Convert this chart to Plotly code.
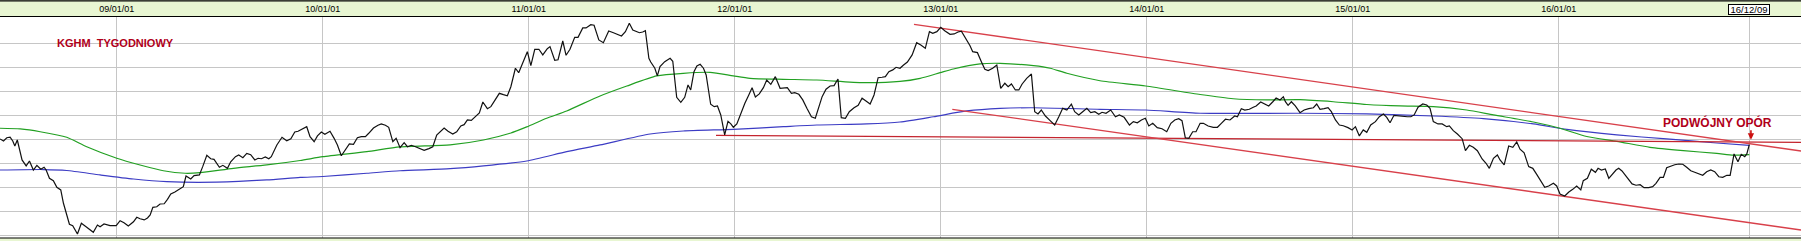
import plotly.graph_objects as go

# ---------------- data (decimal years, price in PLN) ----------------
week_t = [
    2008.433, 2008.450, 2008.466, 2008.482, 2008.495, 2008.505, 2008.517, 2008.540, 2008.560, 2008.576,
    2008.595, 2008.612, 2008.631, 2008.647, 2008.657, 2008.673, 2008.692, 2008.709, 2008.728, 2008.741,
    2008.770, 2008.786, 2008.809, 2008.828, 2008.854, 2008.874, 2008.886, 2008.906, 2008.919, 2008.938,
    2008.967, 2008.997, 2009.016, 2009.035, 2009.056, 2009.081, 2009.097, 2009.113, 2009.133, 2009.149,
    2009.162, 2009.175, 2009.194, 2009.210, 2009.230, 2009.246, 2009.262, 2009.282, 2009.304, 2009.323,
    2009.336, 2009.359, 2009.375, 2009.401, 2009.417, 2009.437, 2009.456, 2009.472, 2009.498, 2009.515,
    2009.537, 2009.553, 2009.576, 2009.592, 2009.612, 2009.631, 2009.650, 2009.670, 2009.686, 2009.702,
    2009.721, 2009.738, 2009.750, 2009.777, 2009.802, 2009.825, 2009.845, 2009.864, 2009.880, 2009.922,
    2009.938, 2009.958, 2009.974, 2009.993, 2010.010, 2010.035, 2010.055, 2010.071, 2010.090, 2010.110,
    2010.129, 2010.149, 2010.168, 2010.187, 2010.207, 2010.223, 2010.246, 2010.268, 2010.284, 2010.304,
    2010.320, 2010.340, 2010.356, 2010.375, 2010.395, 2010.411, 2010.430, 2010.450, 2010.469, 2010.492,
    2010.515, 2010.534, 2010.553, 2010.573, 2010.589, 2010.608, 2010.631, 2010.650, 2010.670, 2010.686,
    2010.702, 2010.721, 2010.748, 2010.760, 2010.777, 2010.799, 2010.816, 2010.835, 2010.857, 2010.877,
    2010.896, 2010.913, 2010.935, 2010.951, 2010.974, 2010.993, 2011.010, 2011.029, 2011.049, 2011.068,
    2011.090, 2011.103, 2011.126, 2011.142, 2011.165, 2011.181, 2011.200, 2011.223, 2011.239, 2011.262,
    2011.278, 2011.301, 2011.317, 2011.340, 2011.362, 2011.388, 2011.411, 2011.430, 2011.450, 2011.469,
    2011.488, 2011.505, 2011.521, 2011.537, 2011.553, 2011.566, 2011.583, 2011.592, 2011.612, 2011.624,
    2011.637, 2011.660, 2011.686, 2011.699, 2011.718, 2011.738, 2011.757, 2011.773, 2011.786, 2011.802,
    2011.816, 2011.832, 2011.848, 2011.861, 2011.883, 2011.900, 2011.916, 2011.932, 2011.951, 2011.967,
    2011.981, 2011.993, 2012.010, 2012.029, 2012.049, 2012.068, 2012.084, 2012.100, 2012.119, 2012.139,
    2012.155, 2012.175, 2012.197, 2012.220, 2012.239, 2012.255, 2012.275, 2012.291, 2012.311, 2012.330,
    2012.350, 2012.372, 2012.391, 2012.408, 2012.424, 2012.443, 2012.463, 2012.482, 2012.501, 2012.517,
    2012.537, 2012.556, 2012.579, 2012.599, 2012.618, 2012.637, 2012.657, 2012.676, 2012.696, 2012.715,
    2012.731, 2012.748, 2012.767, 2012.783, 2012.802, 2012.818, 2012.838, 2012.861, 2012.883, 2012.903,
    2012.925, 2012.945, 2012.961, 2012.981, 2013.000, 2013.019, 2013.045, 2013.065, 2013.084, 2013.100,
    2013.123, 2013.142, 2013.155, 2013.178, 2013.197, 2013.214, 2013.230, 2013.252, 2013.272, 2013.291,
    2013.311, 2013.327, 2013.343, 2013.362, 2013.379, 2013.395, 2013.417, 2013.440, 2013.456, 2013.472,
    2013.488, 2013.508, 2013.531, 2013.553, 2013.573, 2013.592, 2013.612, 2013.634, 2013.650, 2013.670,
    2013.689, 2013.709, 2013.728, 2013.748, 2013.767, 2013.783, 2013.802, 2013.825, 2013.848, 2013.867,
    2013.890, 2013.916, 2013.935, 2013.954, 2013.974, 2013.993, 2014.010, 2014.029, 2014.051, 2014.074,
    2014.097, 2014.117, 2014.136, 2014.155, 2014.171, 2014.187, 2014.204, 2014.223, 2014.239, 2014.259,
    2014.275, 2014.298, 2014.323, 2014.343, 2014.362, 2014.382, 2014.404, 2014.427, 2014.440, 2014.459,
    2014.476, 2014.498, 2014.517, 2014.531, 2014.553, 2014.576, 2014.592, 2014.612, 2014.628, 2014.647,
    2014.663, 2014.673, 2014.686, 2014.702, 2014.721, 2014.744, 2014.764, 2014.786, 2014.809, 2014.825,
    2014.841, 2014.861, 2014.880, 2014.896, 2014.916, 2014.935, 2014.954, 2014.977, 2014.997, 2015.013,
    2015.032, 2015.051, 2015.068, 2015.087, 2015.110, 2015.129, 2015.149, 2015.165, 2015.181, 2015.200,
    2015.223, 2015.243, 2015.265, 2015.282, 2015.298, 2015.317, 2015.340, 2015.359, 2015.375, 2015.391,
    2015.414, 2015.434, 2015.456, 2015.469, 2015.488, 2015.508, 2015.531, 2015.547, 2015.566, 2015.585,
    2015.605, 2015.628, 2015.647, 2015.663, 2015.683, 2015.702, 2015.715, 2015.735, 2015.757, 2015.777,
    2015.796, 2015.812, 2015.832, 2015.854, 2015.874, 2015.893, 2015.916, 2015.932, 2015.951, 2015.974,
    2015.990, 2016.006, 2016.029, 2016.049, 2016.068, 2016.087, 2016.107, 2016.119, 2016.139, 2016.158,
    2016.178, 2016.191, 2016.207, 2016.226, 2016.243, 2016.262, 2016.278, 2016.291, 2016.307, 2016.320,
    2016.336, 2016.356, 2016.375, 2016.395, 2016.414, 2016.437, 2016.456, 2016.472, 2016.492, 2016.508,
    2016.524, 2016.544, 2016.563, 2016.583, 2016.602, 2016.621, 2016.641, 2016.660, 2016.680, 2016.699,
    2016.718, 2016.738, 2016.757, 2016.777, 2016.796, 2016.816, 2016.832, 2016.851, 2016.870, 2016.886,
    2016.903, 2016.913, 2016.925,
]
close = [
    100.3, 98.6, 101.3, 101.7, 98.6, 94.4, 99.4, 82.8, 77.8, 81.9,
    74.4, 78.3, 75.0, 76.7, 74.4, 67.5, 65.5, 60.0, 57.8, 46.7,
    29.2, 28.0, 21.1, 30.0, 26.7, 24.4, 22.5, 28.6, 27.2, 29.4,
    28.0, 28.0, 32.2, 30.5, 27.8, 31.3, 35.0, 33.8, 32.8, 34.4,
    36.9, 43.3, 43.8, 46.1, 46.3, 50.0, 54.4, 56.1, 58.3, 60.5,
    69.4, 66.9, 69.7, 70.3, 77.2, 86.7, 83.8, 83.3, 76.7, 78.3,
    75.8, 81.3, 85.5, 86.9, 84.7, 88.3, 87.2, 82.8, 84.2, 83.8,
    85.3, 83.8, 85.5, 95.3, 101.7, 98.8, 100.5, 106.1, 106.7, 110.5,
    102.2, 98.0, 102.8, 106.1, 104.2, 106.7, 100.8, 95.3, 86.3, 91.1,
    96.1, 95.8, 101.3, 102.2, 102.2, 105.0, 109.4, 111.7, 112.8, 111.7,
    110.0, 98.0, 100.8, 93.0, 97.2, 93.8, 95.0, 93.8, 92.5, 90.8,
    92.2, 93.8, 103.6, 106.9, 109.4, 106.7, 104.4, 106.3, 111.1, 112.2,
    116.1, 115.8, 120.3, 121.9, 131.1, 125.5, 127.2, 132.8, 138.3, 137.2,
    136.3, 143.8, 159.2, 155.5, 164.7, 173.0, 161.3, 175.0, 175.0, 170.3,
    175.5, 177.2, 165.8, 166.3, 181.9, 170.0, 175.0, 185.0, 185.0, 192.8,
    192.8, 195.5, 195.0, 182.8, 180.5, 190.3, 188.8, 187.2, 186.1, 189.7,
    196.7, 191.1, 190.0, 188.8, 189.4, 190.5, 167.5, 164.4, 159.2, 152.8,
    160.5, 164.7, 167.5, 165.0, 135.0, 130.8, 135.0, 145.3, 141.1, 156.3,
    161.1, 162.5, 159.2, 153.6, 129.2, 127.2, 127.8, 120.3, 103.6, 115.0,
    112.8, 110.0, 112.8, 121.7, 130.0, 136.9, 143.0, 135.3, 137.8, 143.0,
    149.4, 145.8, 152.2, 142.5, 142.5, 143.0, 138.3, 138.8, 137.5, 132.8,
    125.8, 118.8, 117.5, 127.2, 135.5, 141.7, 144.4, 144.7, 150.3, 118.0,
    117.5, 123.0, 126.3, 128.3, 134.2, 131.9, 129.4, 136.9, 151.3, 151.7,
    152.2, 156.3, 157.8, 160.0, 159.2, 161.7, 164.4, 170.3, 180.5, 178.6,
    175.8, 189.7, 188.3, 189.7, 193.3, 190.5, 187.5, 187.8, 189.4, 190.0,
    183.6, 178.0, 173.0, 172.2, 164.7, 158.3, 157.2, 159.2, 161.9, 142.5,
    146.7, 143.8, 146.1, 141.1, 141.1, 146.1, 150.8, 154.4, 123.0, 121.1,
    124.4, 119.4, 115.5, 111.9, 118.8, 125.8, 124.4, 129.2, 123.0, 120.3,
    123.0, 125.8, 122.2, 123.0, 120.8, 122.5, 121.7, 124.4, 118.8, 120.3,
    118.3, 111.9, 114.7, 113.8, 116.1, 117.5, 111.1, 113.3, 109.7, 108.8,
    106.3, 113.3, 116.1, 117.2, 115.5, 101.3, 100.8, 106.3, 106.3, 113.3,
    113.3, 111.1, 110.0, 110.0, 113.3, 116.7, 116.1, 119.4, 118.8, 125.5,
    124.4, 125.0, 126.7, 127.8, 131.1, 128.8, 127.8, 131.3, 134.4, 132.8,
    135.5, 131.3, 128.3, 131.3, 127.8, 122.2, 124.4, 125.5, 126.3, 129.4,
    125.0, 125.5, 126.3, 123.0, 116.1, 111.9, 111.3, 109.7, 107.8, 110.5,
    102.8, 107.8, 105.8, 111.9, 114.7, 118.8, 121.1, 118.3, 113.8, 120.0,
    119.4, 119.4, 118.8, 118.8, 120.3, 126.7, 129.4, 128.6, 125.8, 114.7,
    112.8, 112.8, 110.5, 111.1, 107.2, 104.4, 100.5, 90.5, 95.0, 93.3,
    90.5, 83.6, 80.0, 75.8, 84.2, 86.9, 82.8, 78.6, 94.4, 93.3,
    97.8, 91.7, 88.8, 77.2, 75.8, 70.8, 64.7, 60.0, 61.1, 63.3,
    61.1, 54.4, 52.8, 56.1, 58.3, 61.1, 57.8, 65.5, 67.5, 75.0,
    72.5, 75.8, 74.4, 75.3, 67.5, 71.1, 74.4, 75.8, 73.6, 70.8,
    67.2, 62.8, 61.7, 62.2, 59.7, 59.7, 60.5, 63.3, 68.3, 68.3,
    76.3, 77.8, 78.8, 79.4, 79.2, 76.7, 73.8, 72.5, 71.1, 70.0,
    73.0, 74.4, 73.0, 68.8, 68.3, 70.0, 70.0, 87.8, 81.3, 87.5,
    85.5, 87.8, 95.5,
]

# moving averages (green = shorter, blue = longer)
green_t = [2008.433, 2008.531, 2008.628, 2008.757, 2008.854, 2009.000, 2009.113, 2009.226, 2009.332, 2009.404,
           2009.566, 2009.728, 2009.890, 2010.000, 2010.214, 2010.375, 2010.618, 2010.780, 2010.909, 2010.990,
           2011.087, 2011.184, 2011.346, 2011.476, 2011.621, 2011.750, 2011.880, 2011.993, 2012.074, 2012.236,
           2012.398, 2012.624, 2012.802, 2012.900, 2012.997, 2013.061, 2013.191, 2013.288, 2013.450, 2013.531,
           2013.612, 2013.773, 2013.995, 2014.259, 2014.420, 2014.583, 2014.744, 2014.906, 2015.068, 2015.230,
           2015.391, 2015.553, 2015.683, 2015.877, 2016.006, 2016.136, 2016.282, 2016.443, 2016.605, 2016.767,
           2016.848, 2016.925]
green_v = [109.2, 108.6, 106.3, 101.7, 93.8, 84.2, 78.6, 73.8, 71.7, 72.2,
           75.8, 78.6, 82.3, 85.5, 89.7, 93.6, 95.3, 99.4, 105.0, 110.3,
           117.5, 123.6, 136.1, 144.4, 152.8, 155.0, 155.8, 152.8, 150.8, 150.0,
           149.4, 147.2, 148.2, 150.8, 155.5, 158.6, 162.8, 163.3, 161.3, 159.2,
           155.0, 148.8, 144.4, 137.3, 133.8, 132.8, 133.0, 131.3, 129.0, 127.8,
           127.3, 124.4, 120.3, 114.4, 109.2, 102.3, 98.3, 93.3, 90.5, 88.3,
           86.8, 87.3]

blue_t = [2008.433, 2008.644, 2008.757, 2008.919, 2009.081, 2009.243, 2009.485, 2009.728, 2009.890, 2010.000,
          2010.214, 2010.375, 2010.618, 2010.780, 2010.990, 2011.184, 2011.346, 2011.589, 2011.750, 2011.993,
          2012.236, 2012.398, 2012.641, 2012.802, 2012.964, 2013.126, 2013.288, 2013.450, 2013.773, 2013.995,
          2014.259, 2014.744, 2015.068, 2015.391, 2015.634, 2015.877, 2016.039, 2016.282, 2016.524, 2016.767,
          2016.925]
blue_v = [74.4, 74.8, 74.0, 70.3, 66.9, 64.7, 64.3, 66.1, 68.2, 69.0,
          71.7, 73.8, 75.5, 77.8, 81.9, 89.7, 95.3, 104.4, 106.9, 108.3,
          110.5, 111.9, 112.8, 114.4, 118.8, 123.6, 125.8, 126.3, 125.0, 124.4,
          121.7, 121.7, 121.1, 119.4, 117.2, 112.8, 108.2, 103.6, 100.3, 96.9,
          95.0]

# hand-drawn trend lines (start / end)
upper_t, upper_v = [2012.870, 2017.176], [195.8, 90.25]
lower_t, lower_v = [2013.056, 2017.176], [125.0, 24.4]
flat_t, flat_v = [2011.909, 2017.176], [103.3, 97.5]

year_ticks = [2009, 2010, 2011, 2012, 2013, 2014, 2015, 2016]
year_labels = ["09/01/01", "10/01/01", "11/01/01", "12/01/01", "13/01/01", "14/01/01", "15/01/01", "16/01/01"]
last_t, last_label = 2016.925, "16/12/09"
price_grid = [20, 40, 60, 80, 100, 120, 140, 160, 180]

# ---------------- layout helpers ----------------
W, H = 1801, 241
MT, MB = 17, 3
PH = H - MT - MB


def paper_y(py):
    return (H - MB - py) / PH


def paper_x(px):
    return px / W


FONT = "Liberation Sans, Arial, sans-serif"
DARKRED = "#b0001a"

fig = go.Figure()
fig.add_trace(go.Scatter(x=blue_t, y=blue_v, mode="lines",
                         line=dict(color="#3c3cc4", width=1.2, shape="spline", smoothing=0.6),
                         hoverinfo="skip"))
fig.add_trace(go.Scatter(x=green_t, y=green_v, mode="lines",
                         line=dict(color="#22a022", width=1.2, shape="spline", smoothing=0.6),
                         hoverinfo="skip"))
fig.add_trace(go.Scatter(x=flat_t, y=flat_v, mode="lines",
                         line=dict(color="#c4242e", width=1.3), hoverinfo="skip"))
fig.add_trace(go.Scatter(x=upper_t, y=upper_v, mode="lines",
                         line=dict(color="#d8404a", width=1.3), hoverinfo="skip"))
fig.add_trace(go.Scatter(x=lower_t, y=lower_v, mode="lines",
                         line=dict(color="#d8404a", width=1.3), hoverinfo="skip"))
fig.add_trace(go.Scatter(x=week_t, y=close, mode="lines",
                         line=dict(color="#111111", width=1.2), hoverinfo="skip"))

shapes = [
    # header band
    dict(type="rect", xref="paper", yref="paper", x0=0, x1=1, y0=paper_y(16.5), y1=paper_y(0),
         fillcolor="#e8f6d2", line=dict(width=0), layer="below"),
    dict(type="line", xref="paper", yref="paper", x0=0, x1=1, y0=paper_y(0.8), y1=paper_y(0.8),
         line=dict(color="#000000", width=1.2)),
    dict(type="line", xref="paper", yref="paper", x0=0, x1=1, y0=paper_y(16.5), y1=paper_y(16.5),
         line=dict(color="#000000", width=1.2)),
    # bottom band
    dict(type="rect", xref="paper", yref="paper", x0=0, x1=1, y0=paper_y(241), y1=paper_y(238),
         fillcolor="#e8f6d2", line=dict(width=0), layer="below"),
    dict(type="line", xref="paper", yref="paper", x0=0, x1=1, y0=paper_y(238), y1=paper_y(238),
         line=dict(color="#000000", width=1.2)),
]

annotations = [
    dict(text="<b>KGHM\u00a0 TYGODNIOWY</b>", xref="paper", yref="paper",
         x=paper_x(115.5), y=paper_y(42.7), xanchor="center", yanchor="middle",
         showarrow=False, font=dict(family=FONT, size=11, color=DARKRED)),
    dict(text="<b>PODWÓJNY OPÓR</b>", xref="paper", yref="paper",
         x=paper_x(1717), y=paper_y(123), xanchor="center", yanchor="middle",
         showarrow=False, font=dict(family=FONT, size=12, color=DARKRED)),
    dict(text="", x=last_t + 0.008, y=99.6, xref="x", yref="y", showarrow=True,
         ax=0, ay=-11, arrowhead=2, arrowsize=0.8, arrowwidth=1.6, arrowcolor="#cc1010"),
    dict(text=last_label, x=last_t, xref="x", yref="paper", y=paper_y(9.3),
         xanchor="center", yanchor="middle", showarrow=False,
         width=40, height=9, align="center", valign="middle",
         bordercolor="#000000", borderwidth=1, borderpad=0, bgcolor="#ffffff",
         font=dict(family=FONT, size=9.5, color="#000000")),
]

fig.update_layout(
    width=W, height=H,
    margin=dict(l=0, r=0, t=MT, b=MB, pad=0),
    paper_bgcolor="#ffffff", plot_bgcolor="#ffffff",
    showlegend=False,
    shapes=shapes,
    annotations=annotations,
    xaxis=dict(range=[2008.433, 2017.176], side="top",
               tickvals=year_ticks + [last_t], ticktext=year_labels + [""],
               ticks="", showline=False, zeroline=False,
               showgrid=True, gridcolor="#c6c6c6", gridwidth=1,
               tickfont=dict(family=FONT, size=9, color="#000000"),
               ticklabelstandoff=2, fixedrange=True),
    yaxis=dict(range=[17.75, 201.9], tickvals=price_grid, showticklabels=False,
               ticks="", showline=False, zeroline=False,
               showgrid=True, gridcolor="#c6c6c6", gridwidth=1, fixedrange=True),
)

fig.write_html("out.html")
